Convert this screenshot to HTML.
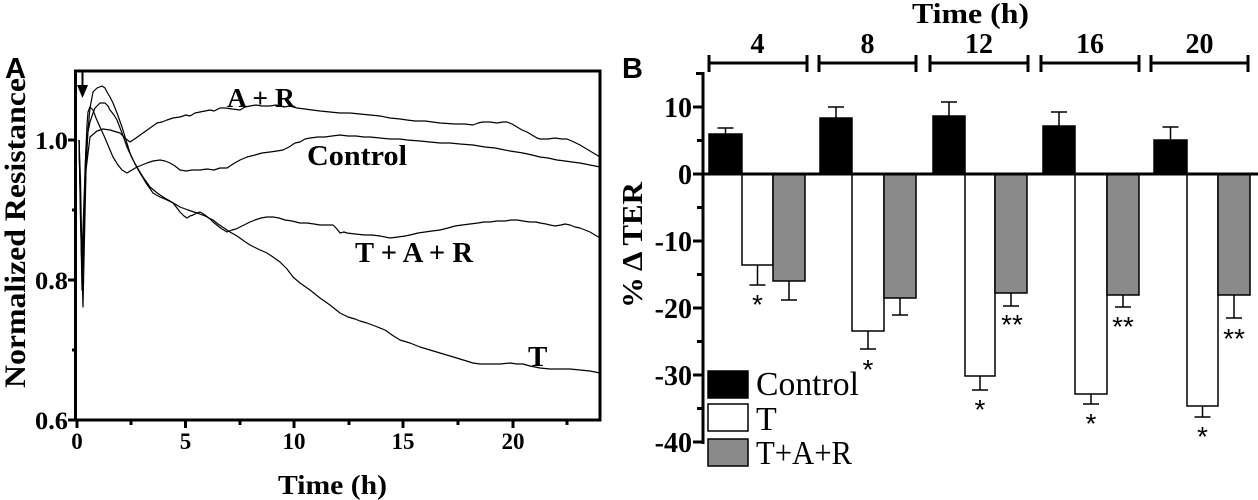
<!DOCTYPE html>
<html><head><meta charset="utf-8"><style>
html,body{margin:0;padding:0;background:#fff;}
svg{display:block;}
.b{font-family:"Liberation Serif",serif;font-weight:bold;fill:#000;}
.r{font-family:"Liberation Serif",serif;fill:#000;}
.s{font-family:"Liberation Sans",sans-serif;font-weight:bold;fill:#000;}
</style></head><body>
<svg width="1258" height="500" viewBox="0 0 1258 500" xmlns="http://www.w3.org/2000/svg">
<rect width="1258" height="500" fill="#fff"/>

<!-- ============ PANEL A ============ -->
<text class="s" x="5" y="78" font-size="29">A</text>
<text class="b" font-size="30" text-anchor="middle" transform="translate(25,233) rotate(-90)" textLength="310" lengthAdjust="spacingAndGlyphs">Normalized Resistance</text>

<!-- frame -->
<g stroke="#000" fill="none">
<line x1="75.5" y1="71" x2="75.5" y2="421" stroke-width="3"/>
<line x1="74" y1="420" x2="601.5" y2="420" stroke-width="3"/>
<line x1="74" y1="71" x2="601.5" y2="71" stroke-width="3"/>
<line x1="600" y1="70" x2="600" y2="421" stroke-width="3"/>
<line x1="68" y1="140" x2="76" y2="140" stroke-width="3"/>
<line x1="68" y1="280" x2="76" y2="280" stroke-width="3"/>
<line x1="68" y1="420" x2="76" y2="420" stroke-width="3"/>
<line x1="72" y1="210" x2="76" y2="210" stroke-width="3"/>
<line x1="72" y1="350" x2="76" y2="350" stroke-width="3"/>
<line x1="77" y1="420" x2="77" y2="428" stroke-width="3"/>
<line x1="185.5" y1="420" x2="185.5" y2="428" stroke-width="3"/>
<line x1="294" y1="420" x2="294" y2="428" stroke-width="3"/>
<line x1="403" y1="420" x2="403" y2="428" stroke-width="3"/>
<line x1="513" y1="420" x2="513" y2="428" stroke-width="3"/>
<line x1="131" y1="420" x2="131" y2="425" stroke-width="3"/>
<line x1="240" y1="420" x2="240" y2="425" stroke-width="3"/>
<line x1="349" y1="420" x2="349" y2="425" stroke-width="3"/>
<line x1="458" y1="420" x2="458" y2="425" stroke-width="3"/>
<line x1="567" y1="420" x2="567" y2="425" stroke-width="3"/>
</g>
<g class="b" font-size="25" text-anchor="end">
<text x="68" y="149" textLength="33" lengthAdjust="spacingAndGlyphs">1.0</text>
<text x="68" y="289" textLength="33" lengthAdjust="spacingAndGlyphs">0.8</text>
<text x="68" y="429" textLength="33" lengthAdjust="spacingAndGlyphs">0.6</text>
</g>
<g class="b" font-size="23" text-anchor="middle">
<text x="77" y="449">0</text>
<text x="185.5" y="449">5</text>
<text x="294" y="449">10</text>
<text x="403" y="449">15</text>
<text x="513" y="449">20</text>
</g>
<text class="b" x="278" y="494" font-size="27" textLength="109" lengthAdjust="spacingAndGlyphs">Time (h)</text>

<!-- arrow -->
<line x1="82.5" y1="71" x2="82.5" y2="88" stroke="#000" stroke-width="2"/>
<polygon points="77,85 88,85 82.5,98" fill="#000"/>

<!-- curves -->
<g fill="none" stroke="#000" stroke-width="1.2" stroke-linejoin="round">
<polyline points="79,140 80.5,200 82,282 84,230 86,170 90,137 97,131 103,129 110,130 120,133 125,138 130,142 136,138 143,133 150,128 157,123 162,122 167,120 173,118 180,117 186,115 190,116 195,113 200,112 205,111 210,110 214,111 220,108 226,108 232,109 240,110 245,107 250,106 256,105 262,106 270,106 276,105 284,107 290,106 297,108 305,109 312,110 320,111 330,112 340,113 350,113 360,114 370,115 380,116 390,118 400,119 407,120 415,121 425,121 440,123 455,124 465,124 473,125 478,123 483,122 490,122 497,123 503,122 507,122 512,124 517,127 522,130 527,132 532,135 537,138 540,139 548,139 555,138 562,139 567,139 574,142 580,145 585,148 590,151 595,154 600,157"/>
<polyline points="79,140 80.5,210 82,290 83.5,250 85,170 87,125 88,112 90,107 93,110 96,118 100,127 105,138 110,150 113,157 118,165 122,170 127,173 132,170 137,167 142,165 147,163 153,161 160,160 165,161 170,163 175,166 180,170 186,171 192,170 200,170 207,169 214,170 220,168 227,168 233,164 240,160 247,157 255,155 262,153 270,152 277,151 283,150 289,147 295,143 300,142 305,139 310,138 318,137 325,137 332,136 340,135 348,136 356,136 364,137 370,137 380,138 390,139 400,139 407,140 420,141 430,142 440,143 450,143 460,144 473,145 485,147 495,148 500,149 510,151 523,153 532,155 540,157 548,158 557,160 565,161 572,162 580,163 590,165 600,167"/>
<polyline points="79,140 80.5,220 83,307 84,260 86,170 88,130 90,108 93,92 97,88 102,86 105,88 107,92 110,97 113,103 117,113 122,127 126,140 130,153 135,164 140,173 146,183 153,193 160,197 167,200 173,203 177,208 180,212 184,216 187,218 190,216 193,215 197,213 200,212 205,215 210,219 213,222 218,226 222,229 227,232 232,230 236,229 240,227 246,224 250,222 255,220 261,218 267,217 273,217 279,218 285,220 292,221 300,223 307,223 314,224 320,225 327,225 333,225 337,229 340,233 344,232 347,233 355,234 365,235 372,235 380,236 390,238 398,237 405,236 410,235 418,233 425,232 432,231 440,230 448,228 455,226 462,225 470,224 478,223 484,222 490,222 497,221 505,221 511,220 517,220 523,221 530,222 536,222 540,223 546,224 550,225 555,226 561,225 565,224 570,225 575,227 580,228 585,230 590,232 595,235 600,238"/>
<polyline points="79,140 80.5,180 82,260 84,200 86,150 88,132 90,122 93,113 95,108 100,103 105,103 108,106 110,110 114,115 117,120 122,133 127,147 132,158 137,167 143,177 150,187 156,192 163,197 170,201 175,204 180,207 188,210 197,213 205,216 213,220 218,224 224,228 230,232 237,236 244,241 250,245 258,249 267,253 273,257 280,262 287,269 293,277 300,283 310,290 320,298 330,305 340,313 348,317 355,319 360,321 367,323 375,326 385,330 392,335 400,340 410,343 420,347 430,350 440,353 450,356 460,359 473,363 480,364 490,364 500,364 510,363 517,364 523,364 530,366 540,368 550,369 560,369 570,369 580,370 590,371 600,373"/>
</g>

<text class="b" x="227" y="107" font-size="27" textLength="68" lengthAdjust="spacingAndGlyphs">A + R</text>
<text class="b" x="307" y="165" font-size="28" textLength="100" lengthAdjust="spacingAndGlyphs">Control</text>
<text class="b" x="355" y="262" font-size="28" textLength="118" lengthAdjust="spacingAndGlyphs">T + A + R</text>
<text class="b" x="528" y="366" font-size="29">T</text>

<!-- ============ PANEL B ============ -->
<text class="s" x="622" y="78" font-size="29">B</text>
<text class="b" font-size="29" text-anchor="middle" transform="translate(642,245) rotate(-90)" textLength="126" lengthAdjust="spacingAndGlyphs">% Δ TER</text>

<text class="b" x="912" y="23" font-size="29" textLength="117" lengthAdjust="spacingAndGlyphs">Time (h)</text>
<g class="b" font-size="28" text-anchor="middle">
<text x="757.5" y="53">4</text>
<text x="867.5" y="53">8</text>
<text x="979" y="53">12</text>
<text x="1090" y="53">16</text>
<text x="1199.5" y="53">20</text>
</g>
<g stroke="#000" fill="none" stroke-width="3">
<line x1="709" y1="63" x2="807" y2="63"/><line x1="709" y1="55" x2="709" y2="72"/><line x1="807" y1="55" x2="807" y2="72"/>
<line x1="819" y1="63" x2="916" y2="63"/><line x1="819" y1="55" x2="819" y2="72"/><line x1="916" y1="55" x2="916" y2="72"/>
<line x1="930" y1="63" x2="1028" y2="63"/><line x1="930" y1="55" x2="930" y2="72"/><line x1="1028" y1="55" x2="1028" y2="72"/>
<line x1="1041" y1="63" x2="1139" y2="63"/><line x1="1041" y1="55" x2="1041" y2="72"/><line x1="1139" y1="55" x2="1139" y2="72"/>
<line x1="1151" y1="63" x2="1248" y2="63"/><line x1="1151" y1="55" x2="1151" y2="72"/><line x1="1248" y1="55" x2="1248" y2="72"/>
</g>

<g stroke="#000" stroke-width="1.5">
<rect x="709" y="134" width="33" height="40" fill="#000"/>
<rect x="820" y="118" width="32" height="56" fill="#000"/>
<rect x="933" y="116" width="32" height="58" fill="#000"/>
<rect x="1043" y="126" width="32" height="48" fill="#000"/>
<rect x="1154" y="140" width="33" height="34" fill="#000"/>
<rect x="742" y="174" width="31" height="91" fill="#fff"/>
<rect x="852" y="174" width="32" height="157" fill="#fff"/>
<rect x="965" y="174" width="30" height="202" fill="#fff"/>
<rect x="1075" y="174" width="32" height="220" fill="#fff"/>
<rect x="1187" y="174" width="31" height="232" fill="#fff"/>
<rect x="773" y="174" width="32" height="107" fill="#8a8a8a"/>
<rect x="884" y="174" width="32" height="124" fill="#8a8a8a"/>
<rect x="995" y="174" width="32" height="119" fill="#8a8a8a"/>
<rect x="1107" y="174" width="32" height="121" fill="#8a8a8a"/>
<rect x="1218" y="174" width="32" height="121" fill="#8a8a8a"/>
</g>

<g stroke="#000" stroke-width="1.5" fill="none">
<line x1="725.5" y1="134" x2="725.5" y2="128"/><line x1="717.5" y1="128" x2="733.5" y2="128"/>
<line x1="836" y1="118" x2="836" y2="107"/><line x1="828" y1="107" x2="844" y2="107"/>
<line x1="949" y1="116" x2="949" y2="102"/><line x1="941" y1="102" x2="957" y2="102"/>
<line x1="1059" y1="126" x2="1059" y2="112"/><line x1="1051" y1="112" x2="1067" y2="112"/>
<line x1="1170.5" y1="140" x2="1170.5" y2="127"/><line x1="1162.5" y1="127" x2="1178.5" y2="127"/>
<line x1="757.5" y1="265" x2="757.5" y2="285"/><line x1="749.5" y1="285" x2="765.5" y2="285"/>
<line x1="868" y1="331" x2="868" y2="349"/><line x1="860" y1="349" x2="876" y2="349"/>
<line x1="980" y1="376" x2="980" y2="390"/><line x1="972" y1="390" x2="988" y2="390"/>
<line x1="1091" y1="394" x2="1091" y2="404"/><line x1="1083" y1="404" x2="1099" y2="404"/>
<line x1="1202.5" y1="406" x2="1202.5" y2="417"/><line x1="1194.5" y1="417" x2="1210.5" y2="417"/>
<line x1="789" y1="281" x2="789" y2="300"/><line x1="781" y1="300" x2="797" y2="300"/>
<line x1="900" y1="298" x2="900" y2="315"/><line x1="892" y1="315" x2="908" y2="315"/>
<line x1="1011" y1="293" x2="1011" y2="306"/><line x1="1003" y1="306" x2="1019" y2="306"/>
<line x1="1123" y1="295" x2="1123" y2="307"/><line x1="1115" y1="307" x2="1131" y2="307"/>
<line x1="1234" y1="295" x2="1234" y2="318"/><line x1="1226" y1="318" x2="1242" y2="318"/>
</g>

<g stroke="#000" fill="none" stroke-width="3">
<line x1="703" y1="72" x2="703" y2="444"/>
<line x1="701" y1="174" x2="1258" y2="174"/>
<line x1="696" y1="73.5" x2="703" y2="73.5"/>
<line x1="693" y1="107" x2="703" y2="107"/>
<line x1="697" y1="140.5" x2="703" y2="140.5"/>
<line x1="693" y1="174" x2="703" y2="174"/>
<line x1="697" y1="207.5" x2="703" y2="207.5"/>
<line x1="693" y1="241" x2="703" y2="241"/>
<line x1="697" y1="274.5" x2="703" y2="274.5"/>
<line x1="693" y1="308" x2="703" y2="308"/>
<line x1="697" y1="341.5" x2="703" y2="341.5"/>
<line x1="693" y1="375" x2="703" y2="375"/>
<line x1="697" y1="408.5" x2="703" y2="408.5"/>
<line x1="693" y1="442" x2="703" y2="442"/>
</g>
<g class="b" font-size="28" text-anchor="end">
<text x="692" y="117">10</text>
<text x="692" y="184">0</text>
<text x="692" y="251">-10</text>
<text x="692" y="318">-20</text>
<text x="692" y="385">-30</text>
<text x="692" y="452">-40</text>
</g>

<g font-family="Liberation Sans, sans-serif" font-size="28" text-anchor="middle" fill="#000">
<text x="757.5" y="314">*</text>
<text x="868" y="379">*</text>
<text x="980" y="419">*</text>
<text x="1091" y="433">*</text>
<text x="1202.5" y="446">*</text>
<text x="1012" y="334">**</text>
<text x="1123" y="336">**</text>
<text x="1234" y="348">**</text>
</g>

<rect x="708" y="371" width="40" height="27" fill="#000" stroke="#000" stroke-width="1.5"/>
<rect x="708" y="404" width="40" height="27" fill="#fff" stroke="#000" stroke-width="1.5"/>
<rect x="708" y="439" width="40" height="27" fill="#8a8a8a" stroke="#000" stroke-width="1.5"/>
<text class="r" x="756" y="395" font-size="34" textLength="103" lengthAdjust="spacingAndGlyphs">Control</text>
<text class="r" x="756" y="430" font-size="34">T</text>
<text class="r" x="756" y="464" font-size="34" textLength="96" lengthAdjust="spacingAndGlyphs">T+A+R</text>
</svg>
</body></html>
